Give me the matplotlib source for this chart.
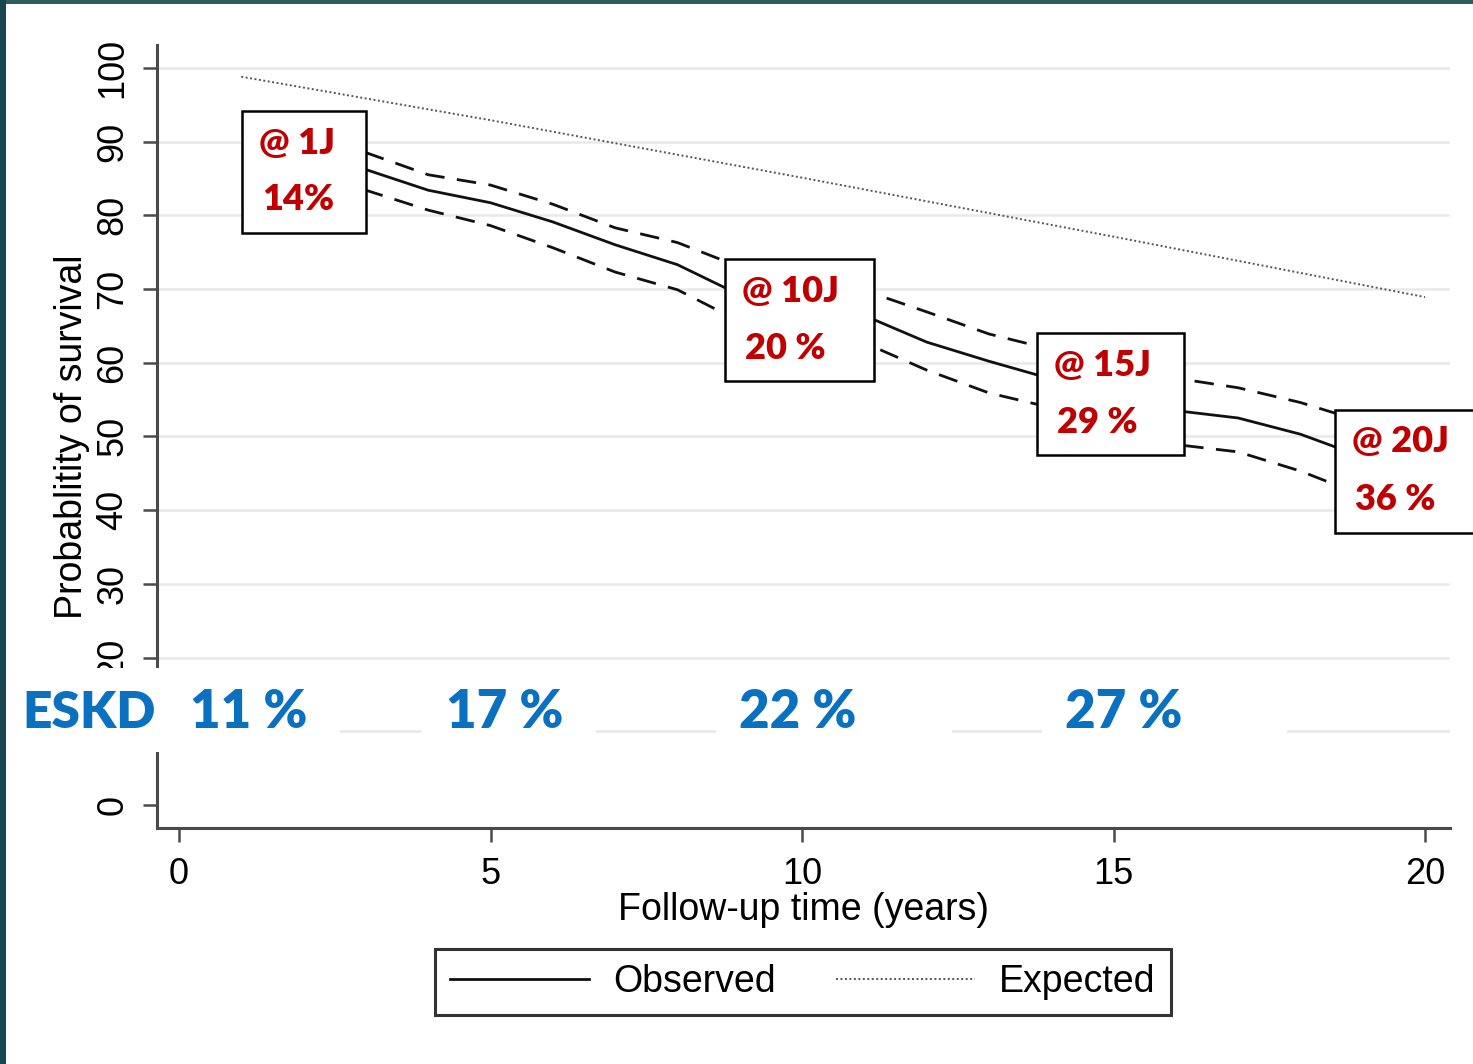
import numpy as np
import matplotlib.pyplot as plt
from matplotlib.patches import Rectangle

# survival curve (percent)
years = np.arange(2, 20)
observed = [88.5, 86.2, 83.4, 81.7, 79.1, 76.0, 73.3, 69.2, 67.8,
            66.4, 62.8, 60.2, 57.8, 55.5, 53.5, 52.5, 50.3, 47.2]
upper_ci = [90.8, 88.5, 85.5, 84.1, 81.5, 78.3, 76.3, 73.0, 71.2,
            69.8, 66.9, 63.9, 61.8, 59.8, 57.9, 56.6, 54.6, 52.0]
lower_ci = [86.3, 83.4, 80.7, 78.6, 75.6, 72.3, 69.9, 65.6, 64.0,
            62.7, 59.0, 55.9, 53.9, 51.2, 48.9, 47.9, 45.3, 42.0]
exp_years = [1, 5, 10, 15, 20]
expected = [98.8, 92.9, 85.1, 77.1, 68.9]

x_ticks = [0, 5, 10, 15, 20]
y_ticks = np.arange(0, 101, 10)
# the 10 label sits under the ESKD band in the original
y_ticklabels = ['' if v == 10 else str(v) for v in y_ticks]
grid_vals = np.arange(10, 101, 10)

mort_top = ['@ 1J', '@ 10J', '@ 15J', '@ 20J']
mort_bottom = ['14%', '20 %', '29 %', '36 %']
eskd_labels = ['11 %', '17 %', '22 %', '27 %']

W, H = 1473, 1064
fx = lambda px: px / W
fy = lambda py: 1 - py / H

fig = plt.figure(figsize=(W / 100, H / 100), dpi=100)
fig.patch.set_facecolor('white')
ax = fig.add_axes([fx(157), fy(828), fx(1450) - fx(157), fy(45) - fy(828)])

axis_font = 'Liberation Sans'
ax.hlines(grid_vals, -0.36, 20.4, color='#e9e9e9', lw=1.8, zorder=0)
exp_line, = ax.plot(exp_years, expected, color='#555555', lw=1.4, ls=(0, (1, 1.3)), label='Expected', zorder=2)
ax.plot(years, upper_ci, color='#111111', lw=2.0, ls=(0, (7, 4.5)), zorder=3)
ax.plot(years, lower_ci, color='#111111', lw=2.0, ls=(0, (7, 4.5)), zorder=3)
obs_line, = ax.plot(years, observed, color='#111111', lw=2.0, label='Observed', zorder=3)

ax.set_xlim(-0.353, 20.4)
ax.set_ylim(-3.12, 103.1)
ax.set_xticks(x_ticks)
ax.set_yticks(y_ticks)
ax.set_yticklabels(y_ticklabels, rotation=90, va='center')
for s in ['top', 'right']:
    ax.spines[s].set_visible(False)
for s in ['left', 'bottom']:
    ax.spines[s].set_color('#4a4a4a')
    ax.spines[s].set_linewidth(2.2)
ax.tick_params(axis='both', length=10, width=1.8, color='#4a4a4a', labelsize=26)
ax.tick_params(axis='x', pad=11)
ax.tick_params(axis='y', pad=9)
for lab in ax.get_xticklabels() + ax.get_yticklabels():
    lab.set_fontfamily(axis_font)
ax.set_xlabel('Follow-up time (years)', fontsize=27, fontfamily=axis_font, labelpad=0)
ax.set_ylabel('Probablitity of survival', fontsize=27, fontfamily=axis_font, labelpad=4)

leg = fig.legend([obs_line, exp_line], ['Observed', 'Expected'], ncol=2,
                 loc='center', bbox_to_anchor=(fx(803), fy(982)),
                 prop={'family': axis_font, 'size': 27}, frameon=True, fancybox=False,
                 edgecolor='black', handlelength=3.7, handletextpad=0.65, columnspacing=1.6,
                 borderpad=0.4, borderaxespad=0)
leg.get_frame().set_linewidth(2.2)

# white band with ESKD numbers
for x0, x1 in [(6, 340), (422, 596), (716, 952), (1042, 1287)]:
    fig.add_artist(Rectangle((fx(x0), fy(752)), fx(x1) - fx(x0), fy(668) - fy(752),
                             transform=fig.transFigure, facecolor='white', edgecolor='none', zorder=5))
blue = '#0a70c0'
fig.text(fx(89), fy(713), 'ESKD', color=blue, fontsize=37, fontweight='heavy', family='Lato',
         ha='center', va='center', zorder=6)
for cx, lab in zip([249, 505, 798, 1124], eskd_labels):
    fig.text(fx(cx), fy(713), lab, color=blue, fontsize=38, fontweight='heavy', family='Lato',
             ha='center', va='center', zorder=6)

# mortality boxes
red = '#c00000'
boxes = [(242, 366, 111, 233), (725, 874, 259, 381), (1037, 1184, 333, 455), (1335, 1480, 410, 533)]
for (x0, x1, y0, y1), t1, t2 in zip(boxes, mort_top, mort_bottom):
    fig.add_artist(Rectangle((fx(x0), fy(y1)), fx(x1) - fx(x0), fy(y0) - fy(y1),
                             transform=fig.transFigure, facecolor='white', edgecolor='black',
                             lw=1.8, zorder=5))
    fig.text(fx(x0 + 17), fy(y0 + 32), t1, color=red, fontsize=26, fontweight='heavy', family='Lato',
             ha='left', va='center', zorder=6)
    fig.text(fx(x0 + 20), fy(y0 + 89), t2, color=red, fontsize=26, fontweight='heavy', family='Lato',
             ha='left', va='center', zorder=6)

# dark frame edges of the slide
fig.add_artist(Rectangle((0, fy(4)), 1, fy(0) - fy(4), transform=fig.transFigure,
                         facecolor='#2a5e60', edgecolor='none', zorder=7))
fig.add_artist(Rectangle((0, 0), fx(6), 1, transform=fig.transFigure,
                         facecolor='#1a4550', edgecolor='none', zorder=7))

fig.savefig('out.png', dpi=100)
